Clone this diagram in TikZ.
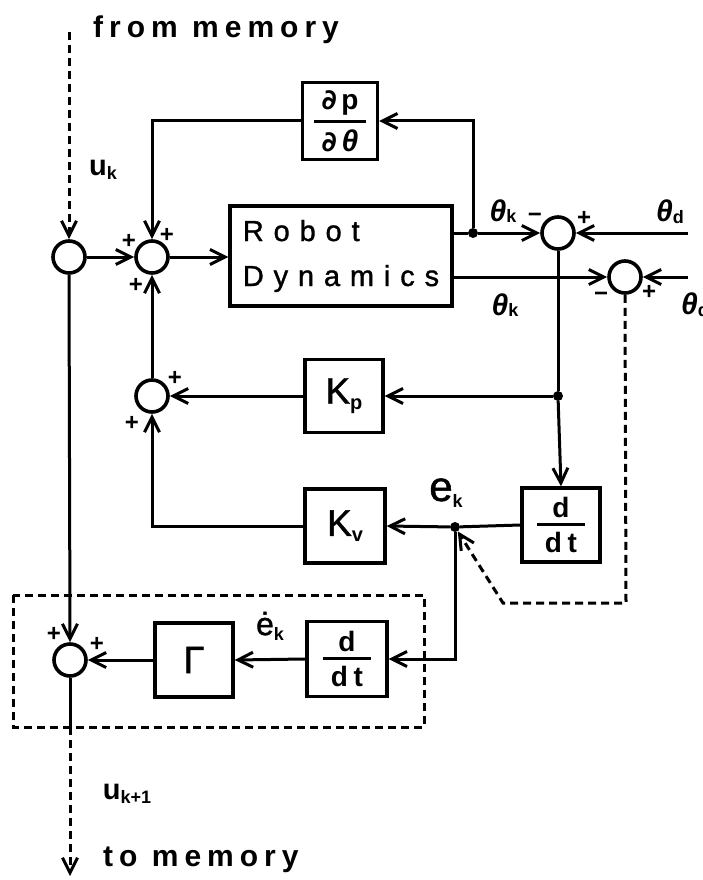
\documentclass[tikz,border=0pt]{standalone}
\usepackage{fontspec}
\setmainfont{Liberation Sans}
\newfontfamily\spc[LetterSpace=20]{Liberation Sans}
\newfontfamily\rdf[LetterSpace=34,FakeBold=1.2]{Liberation Sans}
\newfontfamily\rgf[FakeBold=1.2]{Liberation Sans}
\newfontfamily\ltf[LetterSpace=20]{Liberation Sans}
\newfontfamily\dvs{DejaVu Sans}
\usetikzlibrary{arrows.meta}
\newcommand\sbs[2][18]{\raisebox{-0.3ex}{\fontsize{#1}{#1}\selectfont\normalfont\bfseries #2}}
\newcommand\vfrac[3]{\vbox{\hbox to #3{\hss#1\hss}\kern5pt\hrule height 3pt\kern6pt\hbox to #3{\hss#2\hss}}}
\newcommand\thk{{\fontsize{30}{30}\selectfont\normalfont\bfseries\itshape θ}}
\begin{document}
\begin{tikzpicture}[x=1pt,y=-1pt,
  conn/.style={line width=3pt},
  arr/.style={conn,-{Straight Barb[length=15pt,width=15pt,line width=3pt]}},
  sum/.style={circle,draw,line width=3.6pt,minimum size=32pt,inner sep=0pt},
  blk/.style={draw,line width=3.4pt,inner sep=0pt},
  dsh/.style={line width=3pt,dash pattern=on 8pt off 5pt},
  dot/.style={circle,fill,inner sep=0pt,minimum size=10pt},
  sgn/.style={inner sep=0pt,font=\fontsize{24}{24}\selectfont\bfseries},
  lbl/.style={inner sep=0pt}
]
\useasboundingbox (0,0) rectangle (703,880);
% texts
\node[lbl,anchor=west,font=\spc\fontsize{30}{30}\selectfont\bfseries] (fromtxt) at (93,30) {from memory};
\node[lbl,anchor=west,font=\spc\fontsize{30}{30}\selectfont\bfseries] (totxt) at (103,860) {to memory};
% summing junctions
\node[sum] (S0) at (69,257) {};
\node[sum] (S1) at (152,257) {};
\node[sum] (S2) at (558,233) {};
\node[sum] (S3) at (625,277) {};
\node[sum] (S4) at (152,396) {};
\node[sum] (S5) at (70,660) {};
% blocks
\node[blk,minimum width=222pt,minimum height=100pt,align=left,font=\rdf\fontsize{29}{45}\selectfont] (RD) at (341,256) {Robot\\Dynamics};
\node[blk,minimum width=75pt,minimum height=77pt] (DP) at (340,121)
  {\vfrac{\fontsize{28}{28}\selectfont\dvs\bfseries ∂\,\rmfamily\bfseries p}{\fontsize{28}{28}\selectfont\dvs\bfseries ∂\,\thk}{52pt}};
\node[blk,minimum width=78pt,minimum height=73pt] (KP) at (344,396) {\rgf\fontsize{37}{37}\selectfont K\sbs[20]{p}};
\node[blk,minimum width=80pt,minimum height=74pt] (KV) at (345,526) {\rgf\fontsize{37}{37}\selectfont K\sbs[20]{v}};
\node[blk,minimum width=78pt,minimum height=74pt] (D1) at (561,525)
  {\vfrac{\fontsize{28}{28}\selectfont\bfseries d}{\ltf\fontsize{28}{28}\selectfont\bfseries dt}{48pt}};
\node[blk,minimum width=80pt,minimum height=75pt] (D2) at (347,659)
  {\vfrac{\fontsize{28}{28}\selectfont\bfseries d}{\ltf\fontsize{28}{28}\selectfont\bfseries dt}{48pt}};
\node[blk,minimum width=78pt,minimum height=74pt] (GM) at (194,660) {\rgf\fontsize{38}{38}\selectfont Γ};
% dots and coordinates
\node[dot] (dA) at (473,233) {};
\node[dot] (dB) at (558,396) {};
\node[dot] (dE) at (455,527) {};
\coordinate (utop) at (69,32);
\coordinate (thd1) at (688,233);
\coordinate (thd2) at (688,277);
\coordinate (c1) at (626,603);
\coordinate (c2) at (503,603);
\coordinate (cb) at (70,727);
\coordinate (cend) at (70,876);
\coordinate (bl) at (13,595);
\coordinate (tr) at (424,727);
% dashed box
\draw[dsh] (bl) rectangle (tr);
% connectors
\draw[arr,dsh] (utop) -- (S0.north);
\draw[arr] (S0.east) -- (S1.west);
\draw[arr] (S1.east) -- (RD.west |- S1);
\draw[conn] (RD.east |- S2) -- (dA);
\draw[arr] (dA) -- (S2.west);
\draw[arr] (dA) |- (DP.east);
\draw[arr] (DP.west) -| (S1.north);
\draw[arr] (thd1) -- (S2.east);
\draw[arr] (RD.east |- S3) -- (S3.west);
\draw[arr] (thd2) -- (S3.east);
\draw[conn] (S2.south) -- (dB);
\draw[arr] (dB) -- (D1.north);
\draw[arr] (dB) -- (KP.east);
\draw[arr] (KP.west) -- (S4.east);
\draw[arr] (S4.north) -- (S1.south);
\draw[conn] (D1.west) -- (dE);
\draw[arr] (dE) -- (KV.east);
\draw[arr] (KV.west) -| (S4.south);
\draw[arr] (dE) |- (D2.east);
\draw[arr] (D2.west) -- (GM.east);
\draw[arr] (GM.west) -- (S5.east);
\draw[arr] (S0.south) -- (S5.north);
\draw[conn] (S5.south) -- (cb);
\draw[arr,dsh] (cb) -- (cend);
\draw[arr,dsh] (S3.south) -- (c1) -- (c2) -- (dE);
% labels
\node[lbl,font=\fontsize{29}{29}\selectfont\bfseries] (uk) at (103,170) {u\sbs{k}};
\node[lbl] (thk1) at (503,211) {\thk\sbs{k}};
\node[lbl] (thd1l) at (670,212) {\thk\sbs{d}};
\node[lbl] (thk2) at (505,305) {\thk\sbs{k}};
\node[lbl,anchor=west] (thd2l) at (681,305) {\thk\sbs{d}};
\node[lbl,font=\rgf\fontsize{42}{42}\selectfont] (ek) at (446,493) {e\sbs[18]{k}};
\node[lbl,font=\rgf\fontsize{32}{32}\selectfont] (edk) at (270,626) {ė\sbs[18]{k}};
\node[lbl,font=\fontsize{29}{29}\selectfont\bfseries] (uk1) at (127,794) {u\sbs{k+1}};
% signs
\node[sgn] at (535,218) {−};
\node[sgn] at (584,218) {+};
\node[sgn] at (601,297) {−};
\node[sgn] at (649,292) {+};
\node[sgn] at (129,241) {+};
\node[sgn] at (167,235) {+};
\node[sgn] at (136,285) {+};
\node[sgn] at (175,378) {+};
\node[sgn] at (132,423) {+};
\node[sgn] at (54,634) {+};
\node[sgn] at (97,644) {+};
\end{tikzpicture}
\end{document}
